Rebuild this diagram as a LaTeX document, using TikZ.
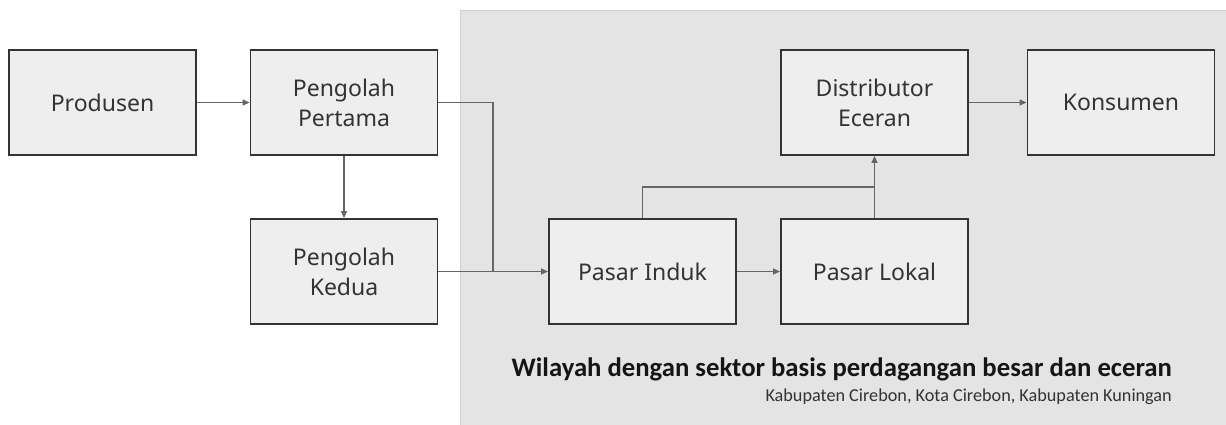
\documentclass[tikz,border=0pt]{standalone}
\usepackage{fontspec}
\setmainfont{Noto Sans}
\newfontfamily\capfont{Carlito}
\usetikzlibrary{arrows.meta}
\definecolor{boxfill}{HTML}{EEEEEE}
\definecolor{boxline}{HTML}{333333}
\definecolor{regionfill}{HTML}{E4E4E4}
\definecolor{regionline}{HTML}{CFCFCF}
\definecolor{connline}{HTML}{666666}
\definecolor{textcol}{HTML}{333333}
\definecolor{titlecol}{HTML}{151515}
\tikzset{
  flowbox/.style={draw=boxline, line width=1.8pt, fill=boxfill, rectangle,
    minimum width=187pt, minimum height=105pt, inner sep=0pt, align=center,
    text=textcol, font=\fontsize{23}{30}\selectfont},
  conn/.style={draw=connline, line width=1.4pt},
  connarrow/.style={conn, -{Triangle[length=7pt,width=6pt]}},
}
\begin{document}
\begin{tikzpicture}[x=1pt,y=-1pt]
\useasboundingbox (0,0) rectangle (1226,425);
\fill[white] (0,0) rectangle (1226,425);
\draw[fill=regionfill, draw=regionline, line width=0.8pt] (460,10) rectangle (1230,430);
\node[flowbox] (prod) at (102.5,102.5) {Produsen};
\node[flowbox] (p1) at (344,102.5) {Pengolah\\Pertama};
\node[flowbox] (p2) at (344,271.5) {Pengolah\\Kedua};
\node[flowbox] (induk) at (642.5,271.5) {Pasar Induk};
\node[flowbox] (lokal) at (874.5,271.5) {Pasar Lokal};
\node[flowbox] (dist) at (874.5,102.5) {Distributor\\Eceran};
\node[flowbox] (kons) at (1121,102.5) {Konsumen};
\coordinate (j) at (493,271.5);
\coordinate (k) at (874.5,187);
\draw[connarrow] (prod.east) -- (p1.west);
\draw[connarrow] (p1.south) -- (p2.north);
\draw[conn] (p1.east) -| (j);
\draw[connarrow] (p2.east) -- (induk.west);
\draw[connarrow] (induk.east) -- (lokal.west);
\draw[conn] (induk.north) |- (k);
\draw[connarrow] (lokal.north) -- (dist.south);
\draw[connarrow] (dist.east) -- (kons.west);
\node[anchor=base east, inner sep=0pt, text=titlecol, font=\capfont\bfseries\fontsize{26.7}{30}\selectfont] (title) at (1172,376) {Wilayah dengan sektor basis perdagangan besar dan eceran};
\node[anchor=base east, inner sep=0pt, text=textcol, font=\capfont\fontsize{18.2}{20}\selectfont] (sub) at (1172,401) {Kabupaten Cirebon, Kota Cirebon, Kabupaten Kuningan};
\end{tikzpicture}
\end{document}
